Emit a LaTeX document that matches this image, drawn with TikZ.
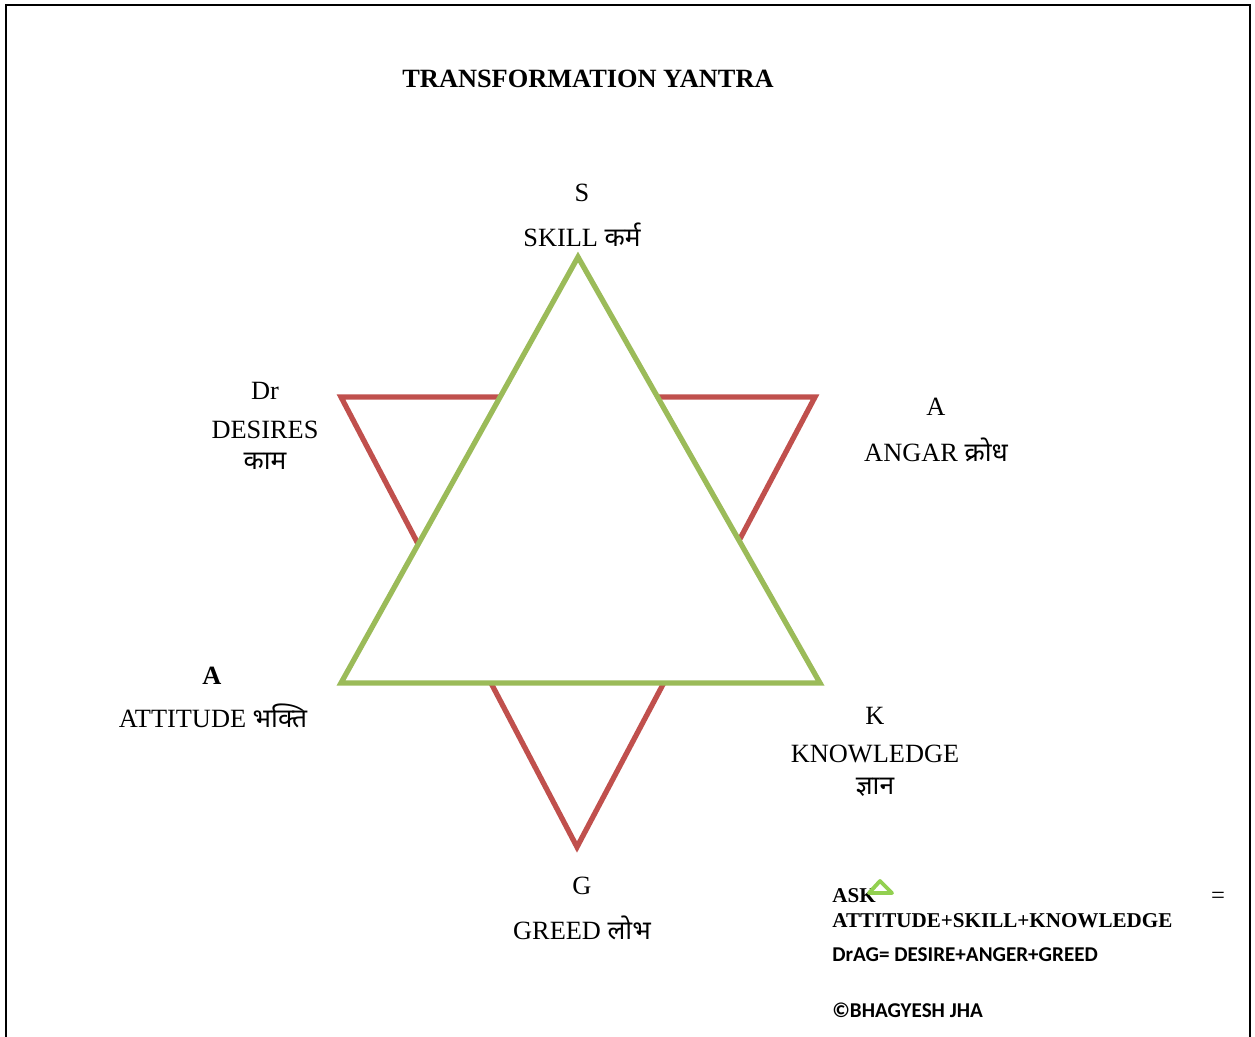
\documentclass[tikz,border=0pt]{standalone}
\usepackage{fontspec}
\setmainfont{Liberation Serif}
\newfontfamily\deva[Script=Devanagari]{Noto Sans}
\newfontfamily\calibri{Carlito}
\usetikzlibrary{positioning,calc}
\definecolor{yantrared}{HTML}{C0504D}
\definecolor{yantragreen}{HTML}{9BBB59}
\definecolor{asklime}{HTML}{92D050}

\begin{document}
\begin{tikzpicture}[x=0.02cm, y=-0.02cm,
    lbl/.style={font=\fontsize{15}{18}\selectfont, inner sep=0pt},
    note/.style={font=\bfseries\fontsize{12}{14}\selectfont, inner sep=0pt, anchor=west},
    sansnote/.style={font=\calibri\bfseries\fontsize{12}{14}\selectfont, inner sep=0pt, anchor=west},
    side/.style={line width=3pt}]

\useasboundingbox (0,0) rectangle (1255,1037);

% marco
\draw[line width=1.1pt] (6,1037) -- (6,5) -- (1250,5) -- (1250,1037);

% titulo
\node[font=\bfseries\fontsize{15}{18}\selectfont, inner sep=0pt] (title) at (588,79) {TRANSFORMATION YANTRA};

% vertices
\coordinate (skill) at (578,257);
\coordinate (attitude) at (341,683);
\coordinate (knowledge) at (820,683);
\coordinate (desires) at (341,397);
\coordinate (anger) at (815,397);
\coordinate (greed) at (577,847);

% triangulo rojo (DrAG) debajo, verde (ASK) encima
\draw[side, draw=yantrared] (desires) -- (anger) -- (greed) -- cycle;
\draw[side, draw=yantragreen, fill=white] (skill) -- (knowledge) -- (attitude) -- cycle;

% etiquetas
\node[lbl] (sLetter) at (582,193) {S};
\node[lbl] (sName) at (582,235) {SKILL {\deva कर्म}};

\node[lbl] (drLetter) at (265,391) {Dr};
\node[lbl] (drName) at (265,430) {DESIRES};
\node[lbl] (drDeva) at (265,461) {\deva काम};

\node[lbl] (aLetter) at (936,407) {A};
\node[lbl] (aName) at (936,450) {ANGAR {\deva क्रोध}};

\node[lbl, font=\bfseries\fontsize{15}{18}\selectfont] (attLetter) at (212,676) {A};
\node[lbl] (attName) at (213,716) {ATTITUDE {\deva भक्ति}};

\node[lbl] (kLetter) at (875,716) {K};
\node[lbl] (kName) at (875,754) {KNOWLEDGE};
\node[lbl] (kDeva) at (875,787) {\deva ज्ञान};

\node[lbl] (gLetter) at (582,886) {G};
\node[lbl] (gName) at (582,928) {GREED {\deva लोभ}};

% formula
\node[note] (ask) at (832,896) {ASK};
\draw[asklime, line width=2.2pt, line join=round] (869,893) -- (880,881) -- (892,893) -- cycle;
\node[font=\fontsize{14}{16}\selectfont, inner sep=0pt] (eq) at (1218,898) {=};
\node[note] (askSum) at (832,921) {ATTITUDE+SKILL+KNOWLEDGE};
\node[sansnote] (drag) at (832,955) {DrAG= DESIRE+ANGER+GREED};
\node[sansnote] (copy) at (832,1010) {©BHAGYESH JHA};

\end{tikzpicture}
\end{document}
